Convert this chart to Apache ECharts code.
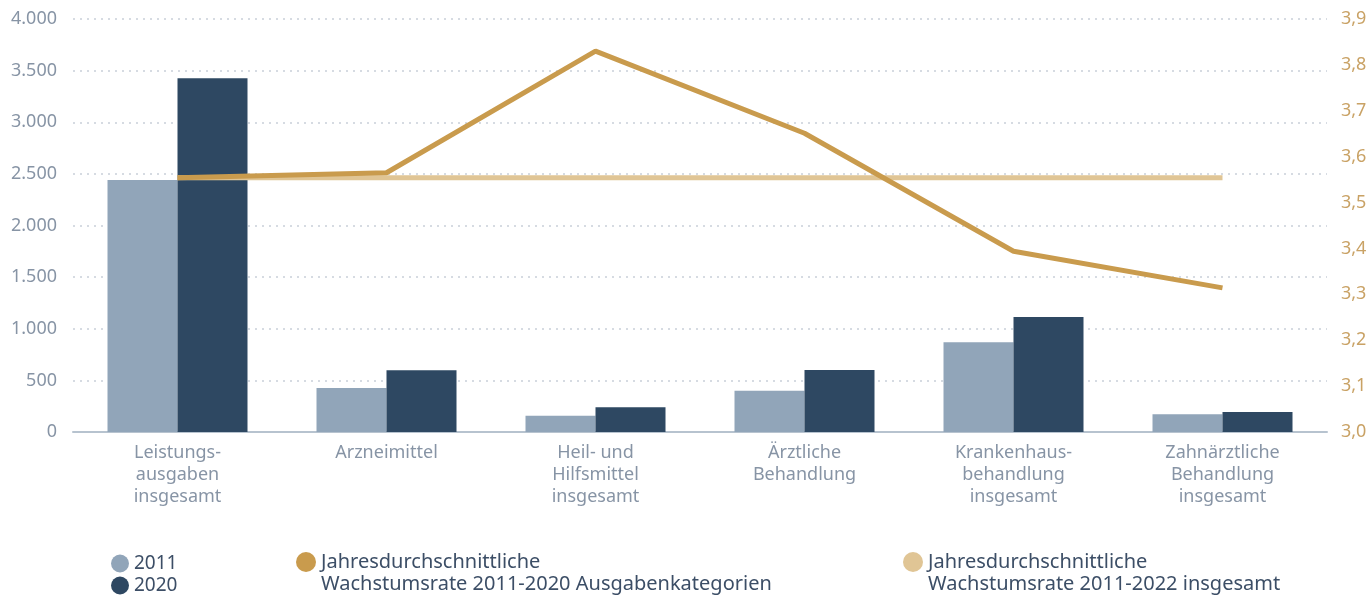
<!DOCTYPE html>
<html>
<head>
<meta charset="utf-8">
<script src="https://cdn.jsdelivr.net/npm/echarts@6/dist/echarts.min.js"></script>
<style>
  html, body { margin: 0; padding: 0; background: #fff; }
  #chart { width: 1372px; height: 596px; }
</style>
</head>
<body>
<div id="chart"></div>
<script>
// ── Daten ───────────────────────────────────────────────────────────────────
var categories = [
  'Leistungs-\nausgaben\ninsgesamt',
  'Arzneimittel',
  'Heil- und\nHilfsmittel\ninsgesamt',
  'Ärztliche\nBehandlung',
  'Krankenhaus-\nbehandlung\ninsgesamt',
  'Zahnärztliche\nBehandlung\ninsgesamt'
];
var values2011 = [2440, 425, 158, 400, 869, 171];
var values2020 = [3425, 597, 240, 600, 1115, 194];
var rateKategorien = [3.554, 3.565, 3.830, 3.651, 3.394, 3.314];
var rateInsgesamt = [3.554, 3.554, 3.554, 3.554, 3.554, 3.554];

var nameKat = 'Jahresdurchschnittliche\nWachstumsrate 2011-2020 Ausgabenkategorien';
var nameGes = 'Jahresdurchschnittliche\nWachstumsrate 2011-2022 insgesamt';

var FONT = '"Noto Sans", "Open Sans", sans-serif';
var C_LIGHT = '#91a5b9';
var C_DARK = '#2e4862';
var C_GOLD = '#c99b4d';
var C_GOLD_LIGHT = '#e0c595';

var chart = echarts.init(document.getElementById('chart'));

// Legendentext zweizeilig: leere Zeile oben, damit die erste Zeile auf Höhe des Kreises liegt
var goldLegend = {
  padding: 0,
  icon: 'circle',
  itemWidth: 20,
  itemHeight: 20,
  formatter: function (name) {
    return '{s| }\n' + name.split('\n').map(function (l) {
      return '{t|' + l + '}';
    }).join('\n');
  },
  textStyle: {
    color: '#3c4e66',
    fontFamily: FONT,
    fontSize: 20,
    rich: {
      s: { fontSize: 20, lineHeight: 22 },
      t: { color: '#3c4e66', fontFamily: FONT, fontSize: 20, lineHeight: 22 }
    }
  }
};

chart.setOption({
  animation: false,
  grid: { left: 73, right: 45, top: 19, bottom: 164 },
  legend: [
    {
      data: ['2011', '2020'],
      orient: 'vertical',
      left: 111,
      top: 554,
      padding: 0,
      itemGap: 3,
      icon: 'circle',
      itemWidth: 18,
      itemHeight: 18,
      textStyle: { color: '#3c4e66', fontFamily: FONT, fontSize: 19 }
    },
    Object.assign({ data: [nameKat], left: 296, top: 530 }, goldLegend),
    Object.assign({ data: [nameGes], left: 903, top: 530 }, goldLegend)
  ],
  xAxis: {
    type: 'category',
    data: categories,
    axisTick: { show: false },
    axisLine: { lineStyle: { color: '#b7c3cf', width: 2 } },
    axisLabel: {
      color: '#8794a5',
      fontFamily: FONT,
      fontSize: 18,
      lineHeight: 22,
      margin: 10,
      interval: 0
    }
  },
  yAxis: [
    {
      type: 'value',
      min: 0,
      max: 4000,
      interval: 500,
      axisLine: { show: false },
      axisTick: { show: false },
      axisLabel: {
        color: '#8794a5',
        fontFamily: FONT,
        fontSize: 18,
        margin: 16,
        formatter: function (v) {
          return String(v).replace(/\B(?=(\d{3})+(?!\d))/g, '.');
        }
      },
      splitLine: {
        lineStyle: { color: '#c9d0d9', type: [2, 5], width: 1.5 }
      }
    },
    {
      type: 'value',
      min: 3.0,
      max: 3.9,
      interval: 0.1,
      position: 'right',
      axisLine: { show: false },
      axisTick: { show: false },
      splitLine: { show: false },
      axisLabel: {
        color: '#c9a265',
        fontFamily: FONT,
        fontSize: 18,
        margin: 14,
        formatter: function (v) { return v.toFixed(1).replace('.', ','); }
      }
    }
  ],
  series: [
    {
      name: '2011',
      type: 'bar',
      data: values2011,
      barWidth: 70,
      barGap: '0%',
      itemStyle: { color: C_LIGHT }
    },
    {
      name: '2020',
      type: 'bar',
      data: values2020,
      barWidth: 70,
      itemStyle: { color: C_DARK }
    },
    {
      name: nameGes,
      type: 'line',
      yAxisIndex: 1,
      data: rateInsgesamt,
      symbol: 'none',
      itemStyle: { color: C_GOLD_LIGHT },
      lineStyle: { color: C_GOLD_LIGHT, width: 5 }
    },
    {
      name: nameKat,
      type: 'line',
      yAxisIndex: 1,
      data: rateKategorien,
      symbol: 'none',
      itemStyle: { color: C_GOLD },
      lineStyle: { color: C_GOLD, width: 5 }
    }
  ]
});
</script>
</body>
</html>
